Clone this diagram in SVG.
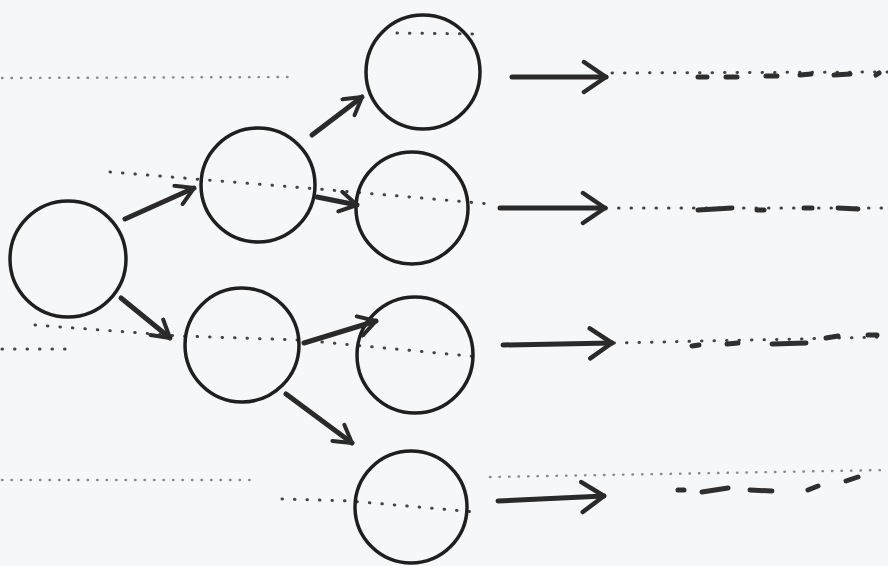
<svg xmlns="http://www.w3.org/2000/svg" width="888" height="566" viewBox="0 0 888 566">
<style>
.node{fill:none;stroke:#1f1f1f;stroke-width:3.5}
.arr{fill:none;stroke:#2a2a2a;stroke-width:5;stroke-linecap:round;stroke-linejoin:round}
.dot{fill:none;stroke:#444;stroke-width:3;stroke-dasharray:0.5 12;stroke-linecap:round}
.faint{fill:none;stroke:#8a8a8a;stroke-width:2.4;stroke-dasharray:0.5 9;stroke-linecap:round}
.dash{fill:none;stroke:#2f2f2f;stroke-width:5;stroke-linecap:round}
</style>
<defs>
<marker id="head" viewBox="0 0 24 24" refX="20" refY="12" markerWidth="24" markerHeight="24" markerUnits="userSpaceOnUse" orient="auto">
<path d="M3 2 L20 12 L3 22" fill="none" stroke="#2a2a2a" stroke-width="4" stroke-linecap="round" stroke-linejoin="round"/>
</marker>
<marker id="headL" viewBox="0 0 30 36" refX="26" refY="18" markerWidth="30" markerHeight="36" markerUnits="userSpaceOnUse" orient="auto">
<path d="M4 3 L26 18 L4 33" fill="none" stroke="#2a2a2a" stroke-width="4.5" stroke-linecap="round" stroke-linejoin="round"/>
</marker>
</defs>
<rect width="888" height="566" fill="#f6f7f9"/>
<g id="guides">
<path class="faint" d="M2 78 L293 77"/>
<path class="faint" d="M2 480 L255 480"/>
<path class="dot" d="M2 349 L70 349"/>
<path class="dot" d="M110 172 L330 190 L490 204"/>
<path class="dot" d="M397 33 L477 34"/>
<path class="dot" d="M35 325 L180 336 L300 340 L480 357"/>
<path class="dot" d="M282 499 L350 501 L475 512"/>
<path class="faint" d="M490 477 L888 470"/>
<path class="dot" d="M612 73 L888 72"/>
<path class="dot" d="M606 208 L888 208"/>
<path class="dot" d="M614 343 L888 337"/>
</g>
<g id="dashes">
<path class="dash" d="M698 77 L707 77 M726 77 L737 77 M766 76 L777 76 M800 75 L811 74 M834 75 L850 74 M876 75 L879 73"/>
<path class="dash" d="M698 210 L732 208 M757 210 L764 210 M804 208 L812 208 M838 208 L858 209"/>
<path class="dash" d="M692 346 L699 345 M727 344 L738 343 M772 344 L806 343 M826 338 L838 336 M868 335 L877 335"/>
<path class="dash" d="M678 490 L684 490 M702 492 L728 488 M750 490 L772 491 M808 490 L818 486 M846 481 L858 477"/>
</g>
<g id="root"><circle class="node" cx="68" cy="259" r="58"/></g>
<g id="a"><circle class="node" cx="258" cy="185" r="57"/></g>
<g id="b"><circle class="node" cx="242" cy="345" r="57"/></g>
<g id="c1"><circle class="node" cx="423" cy="72" r="57"/></g>
<g id="c2"><circle class="node" cx="412" cy="208" r="56"/></g>
<g id="c3"><circle class="node" cx="415" cy="355" r="58"/></g>
<g id="c4"><circle class="node" cx="411" cy="507" r="56"/></g>
<g id="connectors">
<path class="arr" d="M125 219 L194 188" marker-end="url(#head)"/>
<path class="arr" d="M121 298 L170 338" marker-end="url(#head)"/>
<path class="arr" d="M312 135 L362 97" marker-end="url(#head)"/>
<path class="arr" d="M317 197 L357 205" marker-end="url(#head)"/>
<path class="arr" d="M304 343 L376 321" marker-end="url(#head)"/>
<path class="arr" d="M286 394 L352 443" marker-end="url(#head)"/>
<path class="arr" d="M512 77 L606 77" marker-end="url(#headL)"/>
<path class="arr" d="M500 208 L605 208" marker-end="url(#headL)"/>
<path class="arr" d="M503 345 L612 343" marker-end="url(#headL)"/>
<path class="arr" d="M498 501 L604 496" marker-end="url(#headL)"/>
</g>
</svg>
